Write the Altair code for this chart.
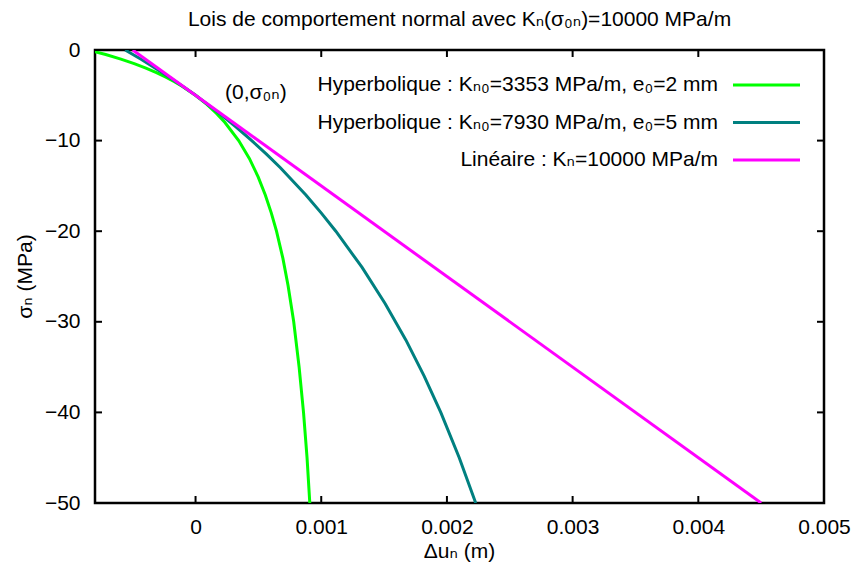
import altair as alt
import pandas as pd

# ---------------- data ----------------
series_names = [
    "Hyperbolique : Kₙ₀=3353 MPa/m, e₀=2 mm",
    "Hyperbolique : Kₙ₀=7930 MPa/m, e₀=5 mm",
    "Linéaire : Kₙ=10000 MPa/m",
]
series_colors = ["#00ff00", "#008080", "#ff00ff"]

green_sigma = [0, -0.5, -1, -1.5, -2, -2.5, -3, -3.5, -4, -5, -6, -7, -8, -10, -12,
               -14, -16, -18, -20, -23, -26, -30, -35, -40, -45, -50]
green_du = [-0.000854, -0.000715, -0.000594, -0.000488, -0.000395, -0.000311,
            -0.000236, -0.000168, -0.000107, 0.0, 0.000090, 0.000167, 0.000234,
            0.000343, 0.000429, 0.000498, 0.000555, 0.000603, 0.000644, 0.000695,
            0.000736, 0.000781, 0.000824, 0.000859, 0.000887, 0.000909]

teal_sigma = [0, -1, -2, -3, -4, -5, -7, -8.5, -10, -11.5, -13, -16, -18, -20, -24,
              -28, -32, -36, -40, -45, -50]
teal_du = [-0.000560, -0.000437, -0.000320, -0.000208, -0.000102, 0.0, 0.000190,
           0.000323, 0.000447, 0.000564, 0.000675, 0.000878, 0.001001, 0.001116,
           0.001325, 0.001509, 0.001673, 0.001819, 0.001951, 0.002098, 0.002229]

lin_sigma = [0, -50]
lin_du = [-0.0005, 0.0045]

x_ticks = [0, 0.001, 0.002, 0.003, 0.004, 0.005]
y_ticks = [0, -10, -20, -30, -40, -50]

annot_x = [0.00048]
annot_y = [-4.7]
annot_text = ["(0,σ₀ₙ)"]

title_text = "Lois de comportement normal avec  Kₙ(σ₀ₙ)=10000 MPa/m"
x_title = "Δuₙ (m)"
y_title = "σₙ (MPa)"

# ---------------- build tables ----------------
rows = []
for name, xs, ys in [(series_names[0], green_du, green_sigma),
                     (series_names[1], teal_du, teal_sigma),
                     (series_names[2], lin_du, lin_sigma)]:
    for i, (a, b) in enumerate(zip(xs, ys)):
        rows.append({"series": name, "du": a, "sigma": b, "idx": i})
df = pd.DataFrame(rows)

W, H = 729, 453
FONT = "Liberation Sans, Arial, DejaVu Sans"
FS = 21

x_scale = alt.Scale(domain=[-0.0008, 0.005], nice=False, zero=False)
y_scale = alt.Scale(domain=[-50, 0], nice=False, zero=False)

x_axis = alt.Axis(values=x_ticks, format="~g", title=None, domain=False, ticks=False,
                  tickSize=0, grid=False, labelPadding=13, labelFlush=False,
                  labelOverlap=False)
y_axis = alt.Axis(values=y_ticks, format="d", title=None, domain=False, ticks=False,
                  tickSize=0, grid=False, labelPadding=15, labelFlush=False,
                  labelOverlap=False)

curves = alt.Chart(df).mark_line(strokeWidth=3, clip=True).encode(
    x=alt.X("du:Q", scale=x_scale, axis=x_axis),
    y=alt.Y("sigma:Q", scale=y_scale, axis=y_axis),
    color=alt.Color("series:N", scale=alt.Scale(domain=series_names, range=series_colors),
                    legend=None),
    order="idx:Q",
)

xt = pd.DataFrame({"v": x_ticks})
yt = pd.DataFrame({"v": y_ticks})
TL = 7
tick_style = dict(color="black", strokeWidth=2)
xticks_b = alt.Chart(xt).mark_rule(**tick_style).encode(
    x=alt.X("v:Q", scale=x_scale), y=alt.value(H), y2=alt.value(H - TL))
xticks_t = alt.Chart(xt).mark_rule(**tick_style).encode(
    x=alt.X("v:Q", scale=x_scale), y=alt.value(0), y2=alt.value(TL))
yticks_l = alt.Chart(yt).mark_rule(**tick_style).encode(
    y=alt.Y("v:Q", scale=y_scale), x=alt.value(0), x2=alt.value(TL))
yticks_r = alt.Chart(yt).mark_rule(**tick_style).encode(
    y=alt.Y("v:Q", scale=y_scale), x=alt.value(W), x2=alt.value(W - TL))

annot = alt.Chart(pd.DataFrame({"x": annot_x, "y": annot_y, "t": annot_text})).mark_text(
    font=FONT, fontSize=FS, align="center", baseline="middle", color="black"
).encode(x=alt.X("x:Q", scale=x_scale), y=alt.Y("y:Q", scale=y_scale), text="t:N")

one = pd.DataFrame({"a": [0]})
title = alt.Chart(one).mark_text(font=FONT, fontSize=FS, align="center",
                                 baseline="alphabetic", color="black", text=title_text
                                 ).encode(x=alt.value(W / 2), y=alt.value(-24))
xlab = alt.Chart(one).mark_text(font=FONT, fontSize=FS, align="center",
                                baseline="alphabetic", color="black", text=x_title
                                ).encode(x=alt.value(W / 2), y=alt.value(508))
ylab = alt.Chart(one).mark_text(font=FONT, fontSize=FS, align="center",
                                baseline="alphabetic", color="black", angle=270,
                                text=y_title).encode(x=alt.value(-63), y=alt.value(H / 2))

legend_layers = []
for i, (name, col) in enumerate(zip(series_names, series_colors)):
    yy = 35 + 37.5 * i
    legend_layers.append(
        alt.Chart(one).mark_text(font=FONT, fontSize=FS, align="right", baseline="middle",
                                 color="black", text=name
                                 ).encode(x=alt.value(623), y=alt.value(yy)))
    legend_layers.append(
        alt.Chart(one).mark_rule(color=col, strokeWidth=3).encode(
            x=alt.value(638), x2=alt.value(705), y=alt.value(yy)))

chart = alt.layer(
    curves, xticks_b, xticks_t, yticks_l, yticks_r, annot, title, xlab, ylab,
    *legend_layers
).properties(
    width=W, height=H,
    autosize=alt.AutoSizeParams(type="none"),
    padding={"left": 87, "top": 42, "right": 28, "bottom": 59},
).configure_view(
    stroke="black", strokeWidth=2.5
).configure_axis(
    labelFont=FONT, labelFontSize=FS, labelColor="black"
)

chart.save("out.html", embed_options={"renderer": "svg", "actions": False})
